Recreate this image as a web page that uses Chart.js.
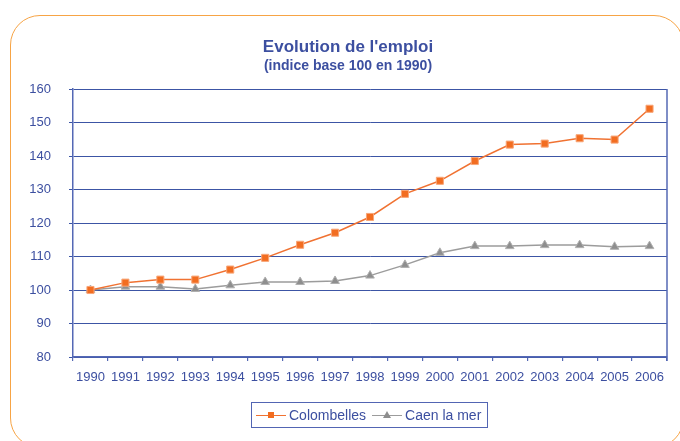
<!DOCTYPE html>
<html lang="fr">
<head>
    <meta charset="UTF-8">
    <title>Evolution de l'emploi</title>
    <script src="https://cdn.jsdelivr.net/npm/chart.js"></script>
    <style>
        body { margin: 0; background: #ffffff; font-family: 'Liberation Sans', Arial, sans-serif; }
        .page { position: relative; width: 680px; height: 441px; overflow: hidden; }
        .frame {
            position: absolute; left: 10px; top: 15px; width: 674px; height: 433px;
            border: 1.5px solid #f7a445; border-radius: 30px; box-sizing: border-box;
        }
        .chart-box { position: absolute; left: 0; top: 0; width: 680px; height: 441px; }
        .title, .subtitle {
            position: absolute; left: 10px; width: 676px; text-align: center;
            color: #3c4fa0; font-weight: bold; white-space: nowrap;
        }
        .title { top: 37px; font-size: 17px; line-height: 20px; }
        .subtitle { top: 57px; font-size: 14px; line-height: 16px; }
        .legend {
            position: absolute; left: 251px; top: 402px; height: 26px; box-sizing: border-box;
            border: 1.5px solid #5265b3; display: flex; align-items: center; padding: 0 6px 0 4px;
            color: #3c4fa0; font-size: 14px;
        }
        .legend .item { display: flex; align-items: center; margin-right: 6px; }
        .legend .item:last-child { margin-right: 0; }
        .legend .sym { position: relative; width: 30px; height: 14px; margin-right: 3px; }
        .legend .sym .ln { position: absolute; left: 0; right: 0; top: 6.5px; height: 1.5px; }
        .legend .sym .sq { position: absolute; left: 12px; top: 4px; width: 6px; height: 6px; }
        .legend .sym .tri {
            position: absolute; left: 11px; top: 3px; width: 0; height: 0;
            border-left: 4px solid transparent; border-right: 4px solid transparent;
        }
    </style>
</head>
<body>
<div class="page">
    <div class="frame"></div>
    <div class="chart-box"><canvas id="emploiChart"></canvas></div>
    <div class="title">Evolution de l'emploi</div>
    <div class="subtitle">(indice base 100 en 1990)</div>
    <div class="legend" id="legend"></div>
</div>

<script>
    // Données (indice base 100 en 1990)
    const annees = ['1990', '1991', '1992', '1993', '1994', '1995', '1996', '1997', '1998',
                    '1999', '2000', '2001', '2002', '2003', '2004', '2005', '2006'];
    const colombelles = [100, 102.2, 103.1, 103.1, 106.1, 109.6, 113.5, 117.1, 121.8,
                         128.7, 132.6, 138.5, 143.4, 143.7, 145.3, 144.9, 154.1];
    const caenLaMer = [100, 101.0, 101.0, 100.3, 101.4, 102.4, 102.4, 102.7, 104.3,
                       107.5, 111.1, 113.1, 113.1, 113.4, 113.4, 112.9, 113.1];
    const graduationsY = [80, 90, 100, 110, 120, 130, 140, 150, 160];
    const series = ['Colombelles', 'Caen la mer'];

    const bleu = '#3c55a5';
    const bleuTexte = '#3c4fa0';
    const orange = '#f26d21';
    const gris = '#8e8e8e';

    // Bordure droite de la zone de tracé (comme dans Excel)
    const cadreDroit = {
        id: 'cadreDroit',
        afterDatasetsDraw(chart) {
            const a = chart.chartArea;
            const ctx = chart.ctx;
            ctx.save();
            ctx.strokeStyle = '#5468b5';
            ctx.lineWidth = 1.5;
            ctx.beginPath();
            ctx.moveTo(a.right, a.top);
            ctx.lineTo(a.right, a.bottom + 4);
            ctx.stroke();
            ctx.restore();
        }
    };

    const ctx = document.getElementById('emploiChart').getContext('2d');
    const emploiChart = new Chart(ctx, {
        type: 'line',
        data: {
            labels: annees,
            datasets: [
                {
                    label: series[0],
                    data: colombelles,
                    borderColor: '#f07232',
                    borderWidth: 1.5,
                    pointStyle: 'rect',
                    pointRadius: 5,
                    pointBackgroundColor: orange,
                    pointBorderColor: '#f8a678',
                    pointBorderWidth: 1,
                    tension: 0
                },
                {
                    label: series[1],
                    data: caenLaMer,
                    borderColor: '#9c9c9c',
                    borderWidth: 1.5,
                    pointStyle: 'triangle',
                    pointRadius: 5,
                    pointBackgroundColor: gris,
                    pointBorderColor: '#b0b0b0',
                    pointBorderWidth: 1,
                    tension: 0
                }
            ]
        },
        options: {
            responsive: true,
            maintainAspectRatio: false,
            animation: false,
            layout: { padding: { left: 0, right: 13, top: 89, bottom: 44 } },
            plugins: {
                legend: { display: false },
                title: { display: false },
                tooltip: { enabled: false }
            },
            scales: {
                x: {
                    offset: true,
                    grid: { offset: true, drawOnChartArea: false, tickLength: 4, color: '#5468b5', lineWidth: 1.2 },
                    border: { color: '#5468b5', width: 1.5 },
                    ticks: {
                        color: bleuTexte, padding: 9, maxRotation: 0, autoSkip: false,
                        font: { family: "'Liberation Sans', Arial, sans-serif", size: 13 }
                    },
                    afterFit(scale) { scale.height = 40; }
                },
                y: {
                    min: graduationsY[0],
                    max: graduationsY[graduationsY.length - 1],
                    grid: { color: bleu, lineWidth: 1, tickLength: 4 },
                    border: { color: '#5468b5', width: 1.5 },
                    ticks: {
                        stepSize: 10, color: bleuTexte, padding: 18,
                        font: { family: "'Liberation Sans', Arial, sans-serif", size: 13 }
                    },
                    afterFit(scale) { scale.width = 73; }
                }
            }
        },
        plugins: [cadreDroit]
    });

    // Légende HTML (trait + marqueur, style Excel)
    const legende = document.getElementById('legend');
    emploiChart.data.datasets.forEach((ds, i) => {
        const item = document.createElement('span');
        item.className = 'item';
        const sym = document.createElement('span');
        sym.className = 'sym';
        const ln = document.createElement('span');
        ln.className = 'ln';
        ln.style.background = ds.borderColor;
        sym.appendChild(ln);
        const mk = document.createElement('span');
        if (i === 0) {
            mk.className = 'sq';
            mk.style.background = orange;
        } else {
            mk.className = 'tri';
            mk.style.borderBottom = '7px solid ' + gris;
        }
        sym.appendChild(mk);
        item.appendChild(sym);
        const txt = document.createElement('span');
        txt.textContent = ds.label;
        item.appendChild(txt);
        legende.appendChild(item);
    });
</script>
</body>
</html>
